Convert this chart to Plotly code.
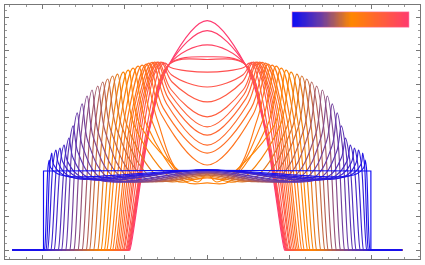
import numpy as np
import plotly.graph_objects as go
from plotly.colors import sample_colorscale

# ---- data (x: tick units, y: tick units) ----
foot_x = [-1.99, -1.98, -1.96, -1.94, -1.90, -1.86, -1.81, -1.77, -1.72, -1.67,
          -1.62, -1.57, -1.52, -1.47, -1.43, -1.38, -1.33, -1.29, -1.25, -1.22,
          -1.18, -1.15, -1.12, -1.10, -1.08, -1.06, -1.04, -1.02, -1.01, -0.99,
          -0.98, -0.97, -0.96, -0.96, -0.95, -0.94]
peak_x = [-1.99, -1.92, -1.89, -1.84, -1.79, -1.74, -1.68, -1.63, -1.58, -1.52,
          -1.46, -1.40, -1.33, -1.27, -1.21, -1.15, -1.09, -1.02, -0.96, -0.90,
          -0.84, -0.79, -0.74, -0.71, -0.67, -0.64, -0.61, -0.59, -0.56, -0.54,
          -0.51, -0.46, -0.46, -0.46, -0.46, -0.46]
peak_y = [2.38, 2.71, 2.92, 3.01, 3.07, 3.16, 3.37, 3.74, 4.13, 4.40,
          4.64, 4.82, 4.94, 5.06, 5.15, 5.24, 5.30, 5.36, 5.42, 5.48,
          5.54, 5.57, 5.60, 5.63, 5.65, 5.66, 5.66, 5.66, 5.66, 5.65,
          5.63, 5.60, 5.60, 5.60, 5.60, 5.60]
dip_x = [None, -1.78, -1.72, -1.66, -1.58, -1.51, -1.44, -1.35, -1.27, -1.18,
         -1.10, -1.01, -0.93, -0.84, -0.74, -0.65, -0.54, -0.38, -0.12, -0.26,
         -0.29, -0.33, None, None, None, None, None, None, None, None,
         None, None, None, None, None, None]
dip_y = [None, 2.26, 2.23, 2.20, 2.20, 2.17, 2.17, 2.14, 2.14, 2.14,
         2.14, 2.14, 2.14, 2.14, 2.14, 2.14, 2.11, 2.08, 2.05, 2.05,
         2.17, 2.33, None, None, None, None, None, None, None, None,
         None, None, None, None, None, None]
center_y = [2.40, 2.41, 2.41, 2.41, 2.41, 2.41, 2.41, 2.38, 2.38, 2.35,
            2.35, 2.32, 2.32, 2.29, 2.26, 2.26, 2.23, 2.20, 2.29, 2.02,
            2.17, 2.32, 2.56, 2.92, 3.16, 3.46, 3.71, 4.01, 4.46, 4.91,
            5.36, 5.74, 5.82, 6.18, 6.61, 6.91]
baseline_end = 2.37

colorscale = [[0.0, "rgb(16,12,245)"], [0.25, "rgb(110,62,162)"],
              [0.5, "rgb(255,135,0)"], [1.0, "rgb(255,58,112)"]]

n = len(foot_x)
colors = sample_colorscale(colorscale, [k / (n - 1) for k in range(n)])


def half_points(k):
    xf, xp, yp, yc = foot_x[k], peak_x[k], peak_y[k], center_y[k]
    pts = [(-baseline_end, 0.0), (xf - 0.005, 0.0), (xf, 0.0)]
    if k == 0:
        pts += [(xf, yp), (0.0, yc)]
        return pts
    if dip_x[k] is None and yc > yp:
        pts += [(xf + 0.5 * (xp - xf), 0.65 * yp), (xp, yp), (0.0, yc)]
        return pts
    low = dip_y[k] if dip_x[k] is not None else yc
    lev = 0.5 * (yp + low)
    s = np.arcsin(min(lev / yp, 1.0)) / (np.pi / 2)
    xs = xf + s * (xp - xf)
    a = xp - xs
    pts += [(xs, lev), (xp, yp), (xp + a, lev)]
    if dip_x[k] is not None:
        pts.append((dip_x[k], dip_y[k]))
    pts.append((0.0, yc))
    return pts


fig = go.Figure()
for k in reversed(range(n)):
    hp = half_points(k)
    full = hp + [(-x, y) for (x, y) in reversed(hp[:-1])]
    xs = [p[0] for p in full]
    ys = [p[1] for p in full]
    fig.add_trace(go.Scatter(
        x=xs, y=ys, mode="lines",
        line=dict(color=colors[k], width=1.15,
                  shape="linear" if k == 0 else "spline", smoothing=1.0),
        hoverinfo="skip", showlegend=False))

# colour legend bar
fig.add_trace(go.Heatmap(z=[list(np.linspace(0, 1, 101))], colorscale=colorscale,
                         showscale=False, xaxis="x2", yaxis="y2",
                         zsmooth="best", hoverinfo="skip"))

axis_common = dict(showline=True, linecolor="#777", linewidth=1, mirror="ticks",
                   ticks="inside", ticklen=4, tickcolor="#777", tickwidth=1,
                   showticklabels=False, showgrid=False, zeroline=False,
                   tick0=0, dtick=1,
                   minor=dict(ticks="inside", ticklen=2, tickcolor="#999", dtick=0.2,
                              showgrid=False))

fig.update_layout(
    width=425, height=265,
    margin=dict(l=5, r=5, t=5, b=6),
    paper_bgcolor="white", plot_bgcolor="white",
    xaxis=dict(range=[-2.458, 2.587], **axis_common),
    yaxis=dict(range=[-0.271, 7.38], **axis_common),
    xaxis2=dict(domain=[0.6916, 0.9735], anchor="y2", visible=False),
    yaxis2=dict(domain=[0.912, 0.9736], anchor="x2", visible=False),
    shapes=[dict(type="rect", xref="x2 domain", yref="y2 domain",
                 x0=0, x1=1, y0=0, y1=1,
                 line=dict(color="rgba(255,140,180,0.6)", width=1))],
)

fig.write_html("out.html", config={"displayModeBar": False},
               post_script="document.body.style.margin='0';document.body.style.overflow='hidden';")
